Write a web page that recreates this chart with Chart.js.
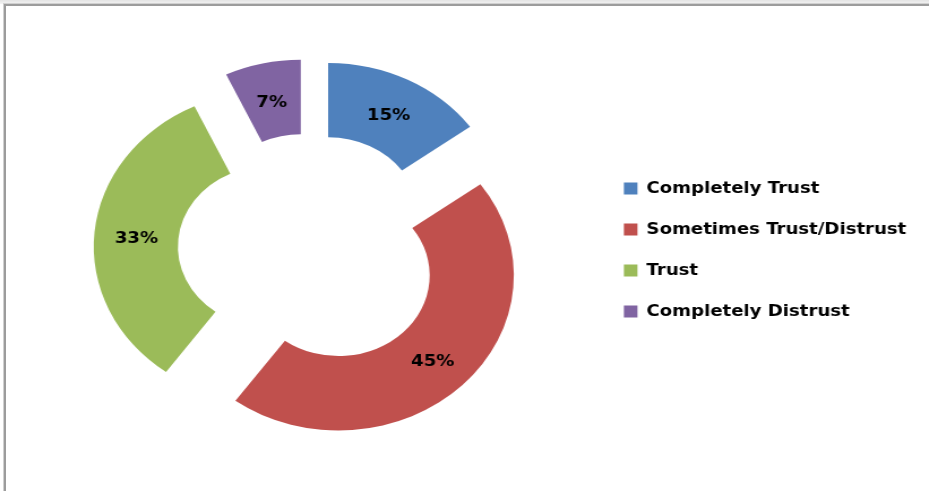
<!DOCTYPE html>
<html>
<head>
<meta charset="utf-8">
<script src="https://cdn.jsdelivr.net/npm/chart.js@4/dist/chart.umd.min.js"></script>
<style>
  html, body { margin: 0; padding: 0; background: #fff; overflow: hidden; }
  body { width: 929px; height: 491px; position: relative;
    background: linear-gradient(#e4e4e4, #f4f4f4 4px, #fff 4px); }
  .frame { position: absolute; left: 4px; top: 4px; width: 940px; height: 500px;
    background: #fff; border-top: 2px solid #9c9c9c; border-left: 2px solid #9c9c9c;
    box-shadow: -1px -1px 0 #d0d0d0; }
  .stretch { position: absolute; left: 0; top: 0; width: 821px; height: 491px;
    transform: scaleX(1.1315); transform-origin: 0 0; }
</style>
</head>
<body>
<div class="frame"></div>
<div class="stretch"><canvas id="trustChart" width="821" height="491"></canvas></div>
<script>
  const categories = ['Completely Trust', 'Sometimes Trust/Distrust', 'Trust', 'Completely Distrust'];
  const shares = [15, 45, 33, 7];
  const sliceColors = ['#4f81bd', '#c0504d', '#9bbb59', '#8064a2'];

  const fontFamily = '"DejaVu Sans", sans-serif';
  const explode = 36;

  // push every slice outward along its own bisector (exploded doughnut)
  const explodePlugin = {
    id: 'explode',
    afterDatasetUpdate(chart, args) {
      args.meta.data.forEach((arc) => {
        const mid = (arc.startAngle + arc.endAngle) / 2;
        arc.x += Math.cos(mid) * explode;
        arc.y += Math.sin(mid) * explode;
      });
    },
  };

  const percentLabels = {
    id: 'percentLabels',
    afterDatasetsDraw(chart) {
      const { ctx } = chart;
      const meta = chart.getDatasetMeta(0);
      ctx.save();
      ctx.font = `bold 16px ${fontFamily}`;
      ctx.fillStyle = '#000';
      ctx.textAlign = 'center';
      ctx.textBaseline = 'middle';
      meta.data.forEach((arc, i) => {
        const pos = arc.tooltipPosition();
        ctx.fillText(`${shares[i]}%`, pos.x, pos.y + 3);
      });
      ctx.restore();
    },
  };

  new Chart(document.getElementById('trustChart'), {
    type: 'doughnut',
    data: {
      labels: categories,
      datasets: [
        {
          data: shares,
          backgroundColor: sliceColors,
          borderWidth: 0,
        },
      ],
    },
    options: {
      responsive: false,
      animation: false,
      events: [],
      cutout: '52%',
      layout: { padding: { left: 21, right: 10, top: 95, bottom: 86 } },
      plugins: {
        tooltip: { enabled: false },
        legend: {
          position: 'right',
          labels: {
            color: '#000',
            font: { family: fontFamily, size: 16, weight: 'bold' },
            boxWidth: 12,
            boxHeight: 12,
            padding: 25,
          },
        },
      },
    },
    plugins: [explodePlugin, percentLabels],
  });
</script>
</body>
</html>
